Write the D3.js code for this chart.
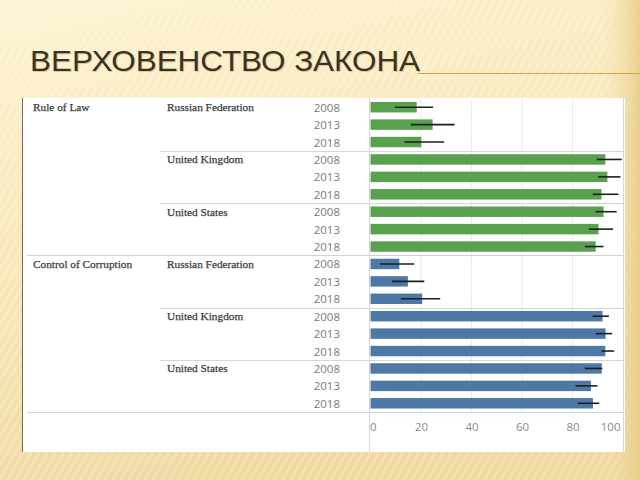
<!DOCTYPE html>
<html>
<head>
<meta charset="utf-8">
<script src="https://cdn.jsdelivr.net/npm/d3@7"></script>
<style>
html,body{margin:0;padding:0;background:#fbefc6;}
svg{display:block;}
</style>
</head>
<body>
<svg id="chart" width="640" height="480"></svg>
<script>
// ---- data ----
const title = "ВЕРХОВЕНСТВО ЗАКОНА";
const measures = ["Rule of Law", "Control of Corruption"];
const countries = ["Russian Federation", "United Kingdom", "United States"];
const years = ["2008", "2013", "2018"];
const tickValues = [0, 20, 40, 60, 80, 100];

// Rule of Law: RF 08/13/18, UK 08/13/18, US 08/13/18
const ruleOfLaw     = [18.3, 24.6, 20.1, 93.0, 93.8, 91.5, 92.3, 90.3, 89.2];
const ruleOfLawLow  = [9.7, 16.0, 13.4, 89.6, 90.2, 88.0, 89.2, 86.5, 84.9];
const ruleOfLawHigh = [24.8, 33.3, 29.2, 99.5, 99.0, 98.2, 97.5, 96.0, 92.3];
// Control of Corruption
const corruption     = [11.4, 14.8, 20.5, 91.9, 93.1, 93.0, 91.6, 87.3, 88.1];
const corruptionLow  = [3.8, 8.6, 12.0, 88.0, 89.2, 91.5, 84.9, 81.2, 82.0];
const corruptionHigh = [17.3, 21.3, 27.6, 94.4, 95.7, 96.5, 91.8, 89.9, 90.6];

const colors = ["#59a14f", "#4e79a7"];

// ---- build rows ----
const seriesVals = [ruleOfLaw, corruption];
const seriesLow = [ruleOfLawLow, corruptionLow];
const seriesHigh = [ruleOfLawHigh, corruptionHigh];
const rows = [];
measures.forEach((m, mi) => {
  countries.forEach((c, ci) => {
    years.forEach((y, yi) => {
      const k = ci * years.length + yi;
      rows.push({measure: m, mi, country: c, ci, year: y, yi,
        value: seriesVals[mi][k], low: seriesLow[mi][k], high: seriesHigh[mi][k]});
    });
  });
});
rows.forEach((r, i) => r.idx = i);

const svg = d3.select("#chart");

// ---- background ----
const defs = svg.append("defs");
const bg = defs.append("linearGradient").attr("id", "bg").attr("x1", 0).attr("y1", 0).attr("x2", 0.3).attr("y2", 1);
bg.append("stop").attr("offset", "0%").attr("stop-color", "#fdf3d2");
bg.append("stop").attr("offset", "55%").attr("stop-color", "#f8e7b6");
bg.append("stop").attr("offset", "100%").attr("stop-color", "#efd9a0");
const pat = defs.append("pattern").attr("id", "stripes").attr("width", 7).attr("height", 7)
  .attr("patternUnits", "userSpaceOnUse").attr("patternTransform", "rotate(30)");
pat.append("rect").attr("width", 3).attr("height", 7).attr("fill", "#ffffff").attr("opacity", 0.18);
svg.append("rect").attr("width", 640).attr("height", 480).attr("fill", "url(#bg)");
svg.append("rect").attr("width", 640).attr("height", 480).attr("fill", "url(#stripes)");
// right darker band
const rb = defs.append("linearGradient").attr("id", "rb").attr("x1", 0).attr("x2", 1);
rb.append("stop").attr("offset", "0%").attr("stop-color", "#f3dfa8").attr("stop-opacity", 0);
rb.append("stop").attr("offset", "100%").attr("stop-color", "#e6c983").attr("stop-opacity", 0.8);
svg.append("rect").attr("x", 600).attr("width", 40).attr("height", 480).attr("fill", "url(#rb)");

// ---- title ----
svg.append("line").attr("x1", 418).attr("x2", 640).attr("y1", 73.5).attr("y2", 73.5)
  .attr("stroke", "#d9a24a").attr("stroke-width", 1.2);
const titleFont = "'Liberation Sans Narrow', 'Liberation Sans', sans-serif";
svg.append("text").attr("x", 31).attr("y", 72).text(title)
  .attr("font-family", titleFont).attr("font-size", 30)
  .attr("fill", "#b59a62").attr("opacity", 0.45).attr("textLength", 390).attr("lengthAdjust", "spacingAndGlyphs");
svg.append("text").attr("x", 30).attr("y", 71).text(title)
  .attr("font-family", titleFont).attr("font-size", 30)
  .attr("fill", "#3a3222").attr("textLength", 390).attr("lengthAdjust", "spacingAndGlyphs");

// ---- panel ----
const panel = {left: 22, top: 98, right: 625, bottom: 452};
const plotL = 370.5, plotR = 623, rowsTop = 98.5, rowsBottom = 412;
svg.append("rect").attr("x", panel.left).attr("y", panel.top)
  .attr("width", panel.right - panel.left).attr("height", panel.bottom - panel.top)
  .attr("fill", "#ffffff");
svg.append("line").attr("x1", panel.left + 0.5).attr("x2", panel.left + 0.5)
  .attr("y1", panel.top).attr("y2", panel.bottom).attr("stroke", "#6b6b60").attr("stroke-width", 1);

const x = d3.scaleLinear().domain([0, 100]).range([plotL, plotR]);
const y = d3.scaleBand().domain(rows.map(r => r.idx)).range([rowsTop, rowsBottom]).paddingInner(0.4).paddingOuter(0.2);
const rowTop = i => rowsTop + i * (rowsBottom - rowsTop) / rows.length;

// vertical gridlines
svg.append("g").selectAll("line").data(tickValues.filter(t => t > 0 && t < 100)).join("line")
  .attr("x1", d => x(d)).attr("x2", d => x(d)).attr("y1", rowsTop).attr("y2", rowsBottom)
  .attr("stroke", "#ececec").attr("stroke-width", 1);

// horizontal separators
const countryStarts = rows.filter(r => r.yi === 0 && r.ci > 0);
svg.append("g").selectAll("line").data(countryStarts).join("line")
  .attr("x1", 160).attr("x2", plotR).attr("y1", d => Math.round(rowTop(d.idx)) + 0.5).attr("y2", d => Math.round(rowTop(d.idx)) + 0.5)
  .attr("stroke", "#d6d6d6");
const measureStarts = rows.filter(r => r.yi === 0 && r.ci === 0 && r.mi > 0);
svg.append("g").selectAll("line").data(measureStarts).join("line")
  .attr("x1", 27).attr("x2", plotR).attr("y1", d => Math.round(rowTop(d.idx)) + 0.5).attr("y2", d => Math.round(rowTop(d.idx)) + 0.5)
  .attr("stroke", "#d2d2d2").attr("stroke-width", 1.2);
svg.append("line").attr("x1", 27).attr("x2", plotR).attr("y1", rowsBottom + 0.5).attr("y2", rowsBottom + 0.5)
  .attr("stroke", "#d2d2d2").attr("stroke-width", 1.2);

// vertical separator & right border
svg.append("line").attr("x1", 369.5).attr("x2", 369.5).attr("y1", panel.top).attr("y2", panel.bottom).attr("stroke", "#d8d8d8");
svg.append("line").attr("x1", 623.5).attr("x2", 623.5).attr("y1", panel.top).attr("y2", panel.bottom).attr("stroke", "#d8d8d8");

// ---- labels ----
const serif = "'Liberation Serif', 'Times New Roman', serif";
svg.append("g").selectAll("text").data(rows.filter(r => r.ci === 0 && r.yi === 0)).join("text")
  .attr("x", 33).attr("y", d => y(d.idx) + y.bandwidth() / 2 + 4).text(d => d.measure)
  .attr("font-family", serif).attr("font-size", 11.3).attr("fill", "#3c3c3c")
  .attr("stroke", "#3c3c3c").attr("stroke-width", 0.25);
svg.append("g").selectAll("text").data(rows.filter(r => r.yi === 0)).join("text")
  .attr("x", 167).attr("y", d => y(d.idx) + y.bandwidth() / 2 + 4).text(d => d.country)
  .attr("font-family", serif).attr("font-size", 11.3).attr("fill", "#3c3c3c")
  .attr("stroke", "#3c3c3c").attr("stroke-width", 0.25);
svg.append("g").selectAll("text").data(rows).join("text")
  .attr("x", 340).attr("y", d => y(d.idx) + y.bandwidth() / 2 + 4.5).attr("text-anchor", "end").text(d => d.year)
  .attr("font-family", "'Open Sans', sans-serif").attr("font-size", 11.5).attr("fill", "#7a7a7a");

// ---- bars ----
svg.append("g").selectAll("rect").data(rows).join("rect")
  .attr("x", x(0)).attr("y", d => y(d.idx)).attr("width", d => x(d.value) - x(0)).attr("height", y.bandwidth())
  .attr("fill", d => colors[d.mi]);
// error bars
svg.append("g").selectAll("line").data(rows).join("line")
  .attr("x1", d => x(d.low)).attr("x2", d => x(d.high))
  .attr("y1", d => y(d.idx) + y.bandwidth() / 2).attr("y2", d => y(d.idx) + y.bandwidth() / 2)
  .attr("stroke", "#1e1e1e").attr("stroke-width", 1.6);

// ---- axis ----
const axis = svg.append("g").attr("transform", `translate(0,${rowsBottom + 8})`)
  .call(d3.axisBottom(x).tickValues(tickValues).tickSize(0).tickFormat(d3.format("d")));
axis.select(".domain").remove();
axis.selectAll("text").attr("font-family", "'Open Sans', sans-serif").attr("font-size", 11.5).attr("fill", "#8a8a8a");
axis.selectAll(".tick").filter(d => d === 0).select("text").attr("text-anchor", "start").attr("dx", -1);
axis.selectAll(".tick").filter(d => d === 100).select("text").attr("text-anchor", "end").attr("dx", -3);
</script>
</body>
</html>
